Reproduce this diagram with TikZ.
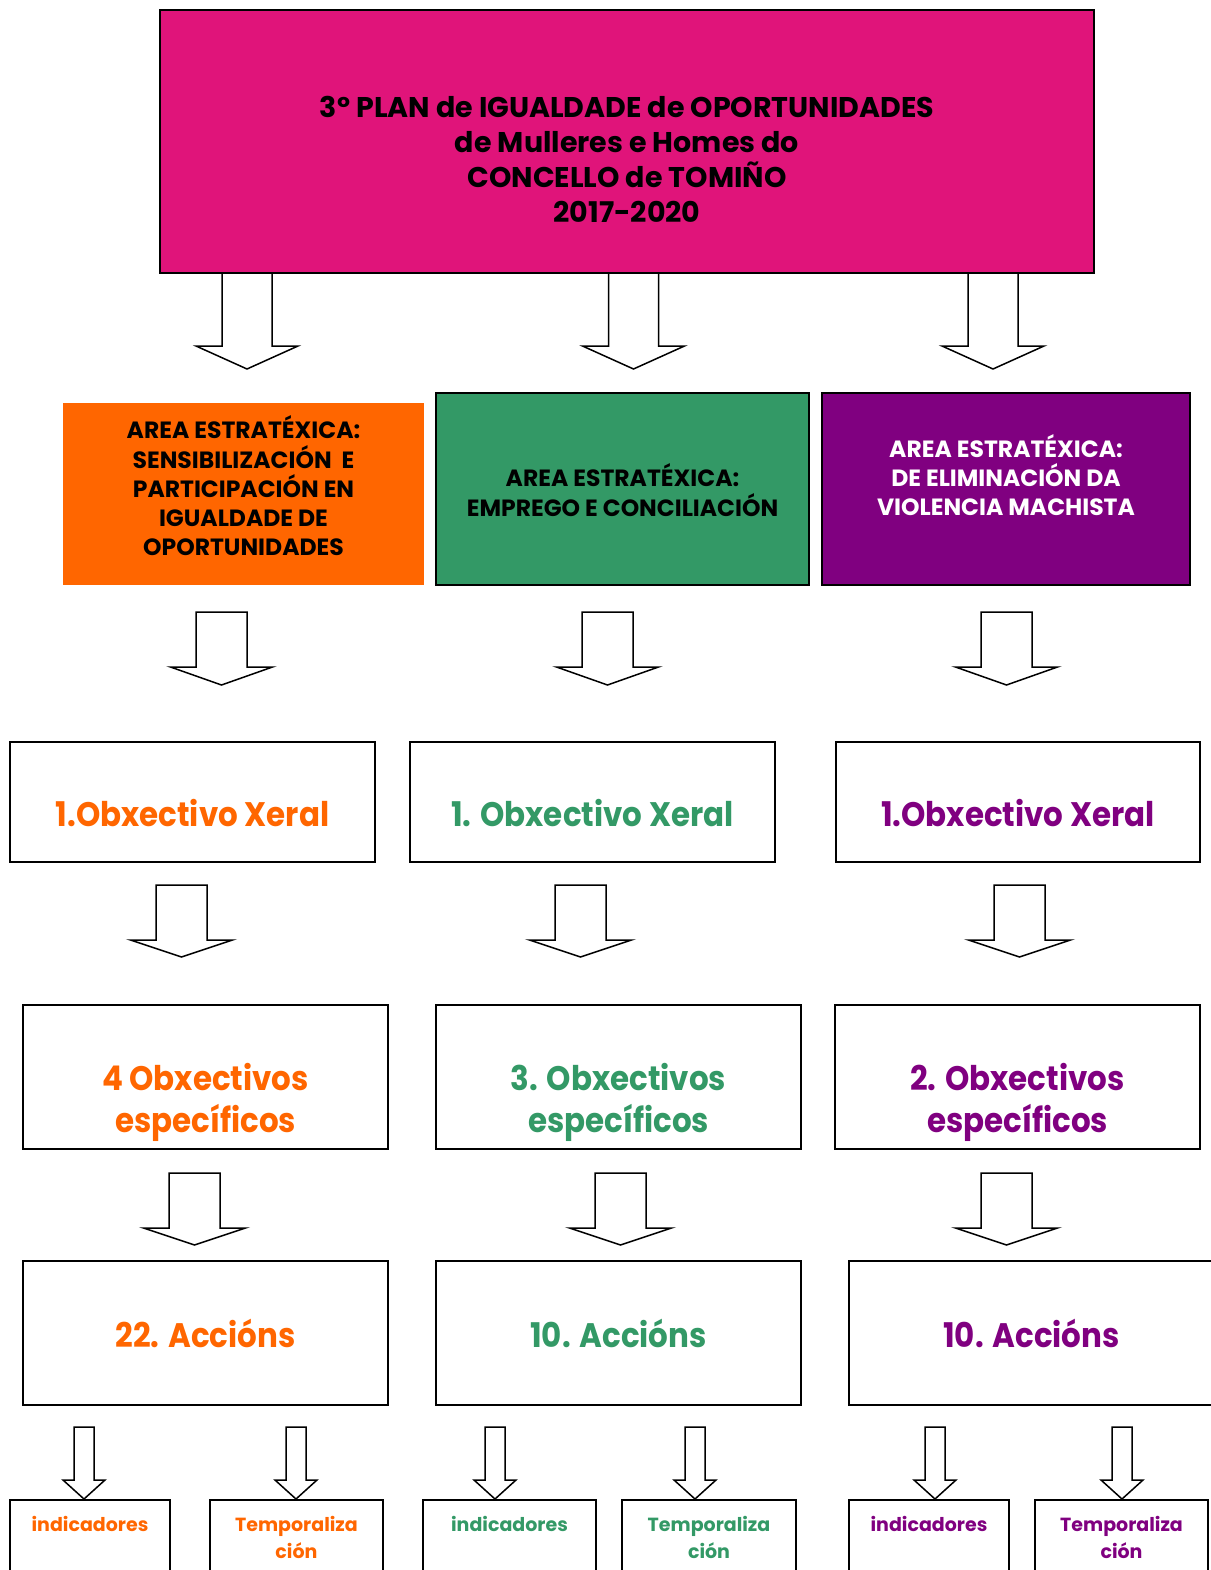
\documentclass[tikz,border=0pt]{standalone}
\usepackage{fontspec}
\setmainfont{Poppins}
\newfontfamily\xeralfont{Poppins}[FakeStretch=0.91]

\definecolor{plancolor}{RGB}{224,20,122}
\definecolor{sensicolor}{RGB}{255,102,0}
\definecolor{empcolor}{RGB}{51,153,102}
\definecolor{violcolor}{RGB}{128,0,128}

% big white block arrow: centre x, top y, neck y, tip y, half shaft, half head
\newcommand{\blockarrow}[6]{%
\draw[arrowline] (#1-#5,#2)--(#1-#5,#3)--(#1-#6,#3)--(#1,#4)--(#1+#6,#3)--(#1+#5,#3)--(#1+#5,#2)--cycle;}

\tikzset{
  arrowline/.style={draw=black,fill=white,line width=1.5pt,line join=miter},
  planbox/.style={draw=black,fill=plancolor,line width=1.8pt,inner sep=0pt,
    minimum width=934pt,minimum height=263pt},
  plantext/.style={align=center,font=\bfseries\fontsize{28.5}{35}\selectfont},
  areabox/.style={inner sep=0pt,minimum height=192pt},
  areatext/.style={align=center,font=\bfseries\fontsize{23.5}{29.3}\selectfont},
  outbox/.style={draw=black,fill=white,line width=1.8pt,inner sep=0pt},
  xeraltext/.style={font=\xeralfont\bfseries\fontsize{34}{42}\selectfont,align=center},
  smalltext/.style={font=\bfseries\fontsize{19}{27}\selectfont,align=center,anchor=north}
}

\begin{document}
\begin{tikzpicture}[x=1pt,y=-1pt]
\useasboundingbox (0,0) rectangle (1210,1570);
\fill[white] (0,0) rectangle (1210,1570);

% plan
\node[planbox,label={[plantext,yshift=-18pt]center:3º PLAN de IGUALDADE de OPORTUNIDADES\\de Mulleres e Homes do\\CONCELLO de TOMIÑO\\2017-2020}] (plan) at (627,141.5) {};

% areas
\node[areabox,fill=sensicolor,minimum width=361pt,minimum height=182pt,
  label={[areatext,yshift=8pt]center:AREA ESTRATÉXICA:\\SENSIBILIZACIÓN\ \ E\\PARTICIPACIÓN EN\\IGUALDADE DE\\OPORTUNIDADES}] (sensi) at (243.5,494) {};
\node[areabox,draw=black,line width=1.8pt,fill=empcolor,minimum width=373pt,
  label={[areatext,yshift=-1pt]center:AREA ESTRATÉXICA:\\EMPREGO E CONCILIACIÓN}] (emprego) at (622.5,489) {};
\node[areabox,draw=black,line width=1.8pt,fill=violcolor,minimum width=368pt,
  label={[areatext,text=white,yshift=14pt]center:AREA ESTRATÉXICA:\\DE ELIMINACIÓN DA\\VIOLENCIA MACHISTA}] (violencia) at (1006,489) {};

\blockarrow{247}{273}{346}{369}{25}{51}
\blockarrow{633.5}{273}{346}{369}{25}{51}
\blockarrow{993}{273}{346}{369}{25}{51}

% obxectivo xeral
\node[outbox,minimum width=365pt,minimum height=120pt,
  label={[xeraltext,text=sensicolor,yshift=-11pt]center:1.Obxectivo Xeral}] (xeral1) at (192.5,802) {};
\node[outbox,minimum width=365pt,minimum height=120pt,
  label={[xeraltext,text=empcolor,yshift=-11pt]center:1. Obxectivo Xeral}] (xeral2) at (592.5,802) {};
\node[outbox,minimum width=364pt,minimum height=120pt,
  label={[xeraltext,text=violcolor,yshift=-11pt]center:1.Obxectivo Xeral}] (xeral3) at (1018,802) {};

\blockarrow{221.5}{612}{667}{685}{25.5}{51}
\blockarrow{607.5}{612}{667}{685}{25.5}{51}
\blockarrow{1006.5}{612}{667}{685}{25.5}{51}

% obxectivos especificos
\node[outbox,minimum width=365pt,minimum height=144pt,
  label={[xeraltext,text=sensicolor,yshift=-25pt]center:4 Obxectivos\\específicos}] (espec1) at (205.5,1077) {};
\node[outbox,minimum width=365pt,minimum height=144pt,
  label={[xeraltext,text=empcolor,yshift=-25pt]center:3. Obxectivos\\específicos}] (espec2) at (618.5,1077) {};
\node[outbox,minimum width=365pt,minimum height=144pt,
  label={[xeraltext,text=violcolor,yshift=-25pt]center:2. Obxectivos\\específicos}] (espec3) at (1017.5,1077) {};

\blockarrow{181.5}{885}{940}{957}{25.5}{51}
\blockarrow{580.5}{885}{940}{957}{25.5}{51}
\blockarrow{1019.5}{885}{940}{957}{25.5}{51}

% accions
\node[outbox,minimum width=365pt,minimum height=144pt,
  label={[xeraltext,text=sensicolor]center:22. Accións}] (accions1) at (205.5,1333) {};
\node[outbox,minimum width=365pt,minimum height=144pt,
  label={[xeraltext,text=empcolor]center:10. Accións}] (accions2) at (618.5,1333) {};
\node[outbox,minimum width=365pt,minimum height=144pt,
  label={[xeraltext,text=violcolor]center:10. Accións}] (accions3) at (1031.5,1333) {};

\blockarrow{194.5}{1173}{1228}{1245}{25.5}{51}
\blockarrow{620.5}{1173}{1228}{1245}{25.5}{51}
\blockarrow{1006.5}{1173}{1228}{1245}{25.5}{51}

% indicadores e temporalizacion
\foreach \cx/\bw/\col/\txt/\nm in {
   90/160/sensicolor/indicadores/ind1, 296.5/173/sensicolor/Temporaliza\\ción/temp1,
   509.5/173/empcolor/indicadores/ind2, 709/174/empcolor/Temporaliza\\ción/temp2,
   929/160/violcolor/indicadores/ind3, 1121.5/173/violcolor/Temporaliza\\ción/temp3}{
  \node[outbox,anchor=north,minimum width=\bw pt,minimum height=110pt,
    label={[smalltext,text=\col,yshift=-14pt]north:\txt}] (\nm) at (\cx,1499) {};
}

\foreach \cx in {84,296,495,695,935,1122}{
  \blockarrow{\cx}{1427}{1480}{1499}{10}{21}
}

\end{tikzpicture}
\end{document}
